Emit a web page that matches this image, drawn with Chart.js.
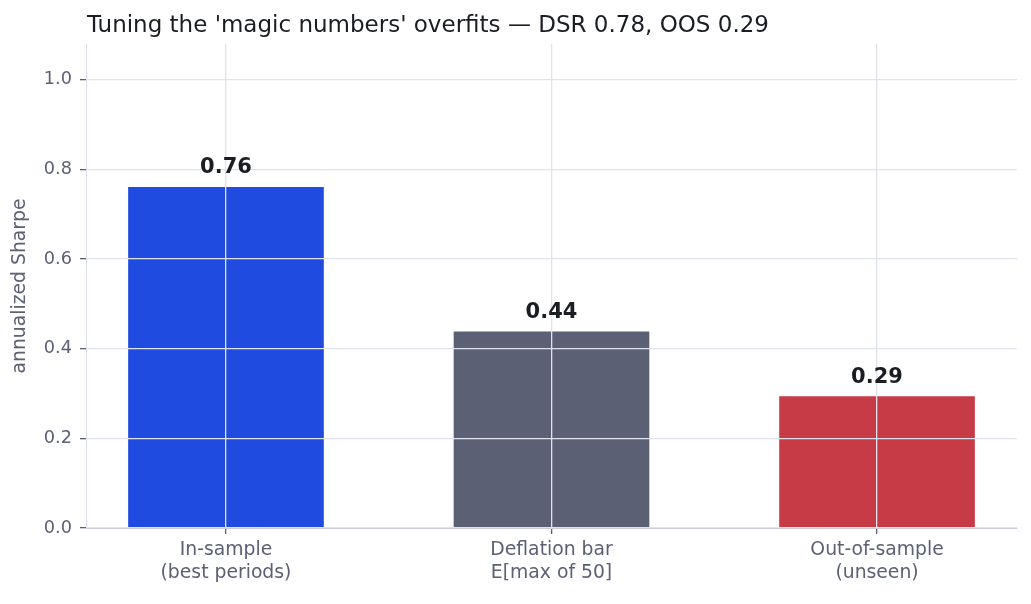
<!DOCTYPE html>
<html>
<head>
<meta charset="utf-8">
<script src="https://cdn.jsdelivr.net/npm/chart.js@4"></script>
<style>
  html, body { margin: 0; padding: 0; background: #fff; }
  #wrap { width: 1031px; height: 604px; }
</style>
</head>
<body>
<div id="wrap"><canvas id="playground" width="1031" height="604"></canvas></div>
<script>
// chart data
const categories = [['In-sample', '(best periods)'], ['Deflation bar', 'E[max of 50]'], ['Out-of-sample', '(unseen)']]
const sharpeValues = [0.76, 0.438, 0.293]
const valueLabels = ['0.76', '0.44', '0.29']
const barColors = ['#204be0', '#5b6075', '#c73b47']
const yTicks = [0, 0.2, 0.4, 0.6, 0.8, 1.0]
const chartTitle = "Tuning the 'magic numbers' overfits \u2014 DSR 0.78, OOS 0.29"

const FONT = "'DejaVu Sans', sans-serif"
const gridColor = '#e0e2ec'
const textGray = '#5b6075'

// title at chart-area left + bold value labels over bars
const labelsPlugin = {
  id: 'labelsPlugin',
  afterDraw(chart) {
    const ctx = chart.ctx
    ctx.save()
    ctx.fillStyle = '#1b1d24'
    ctx.font = `23px ${FONT}`
    ctx.textAlign = 'left'
    ctx.textBaseline = 'alphabetic'
    ctx.fillText(chartTitle, chart.chartArea.left + 1, 32)

    const meta = chart.getDatasetMeta(0)
    ctx.font = `bold 21px ${FONT}`
    ctx.textAlign = 'center'
    meta.data.forEach((bar, i) => {
      ctx.fillText(valueLabels[i], bar.x, bar.y - 14)
    })
    ctx.restore()
  },
}

const plotChart = () => {
  const ctx = document.getElementById('playground').getContext('2d')
  const myChart = new Chart(ctx, {
    type: 'bar',
    data: {
      datasets: [
        {
          data: sharpeValues.map((v, i) => ({ x: i, y: v })),
          backgroundColor: barColors,
          borderWidth: 0,
          barThickness: 195,
        },
      ],
    },
    options: {
      responsive: false,
      animation: false,
      layout: { padding: { top: 44, right: 14, left: 0, bottom: 0 } },
      scales: {
        x: {
          type: 'linear',
          min: -0.43,
          max: 2.43,
          offset: false,
          afterBuildTicks: (axis) => {
            axis.ticks = categories.map((c, i) => ({ value: i }))
          },
          afterFit: (axis) => {
            axis.height = 76
          },
          grid: {
            z: 1,
            offset: false,
            color: gridColor,
            lineWidth: 1.3,
            tickColor: textGray,
            tickLength: 6,
          },
          border: { color: '#c9cbd6', z: 2 },
          ticks: {
            z: 2,
            color: textGray,
            padding: 5,
            font: { family: FONT, size: 18.8 },
            callback: (v) => categories[v],
          },
        },
        y: {
          min: 0,
          max: 1.08,
          afterBuildTicks: (axis) => {
            axis.ticks = yTicks.map((v) => ({ value: v }))
          },
          afterFit: (axis) => {
            axis.width = 86
          },
          grid: {
            z: 1,
            color: gridColor,
            lineWidth: 1.3,
            tickColor: textGray,
            tickLength: 6,
          },
          border: { color: '#dcdee7', z: 2 },
          ticks: {
            z: 2,
            color: textGray,
            padding: 8,
            font: { family: FONT, size: 17.7 },
            callback: (v) => v.toFixed(1),
          },
          title: {
            display: true,
            text: 'annualized Sharpe',
            color: textGray,
            padding: { top: 9, bottom: 0 },
            font: { family: FONT, size: 18.8 },
          },
        },
      },
      plugins: {
        legend: { display: false },
        tooltip: { enabled: false },
      },
    },
    plugins: [labelsPlugin],
  })
  return myChart
}

plotChart()
</script>
</body>
</html>
